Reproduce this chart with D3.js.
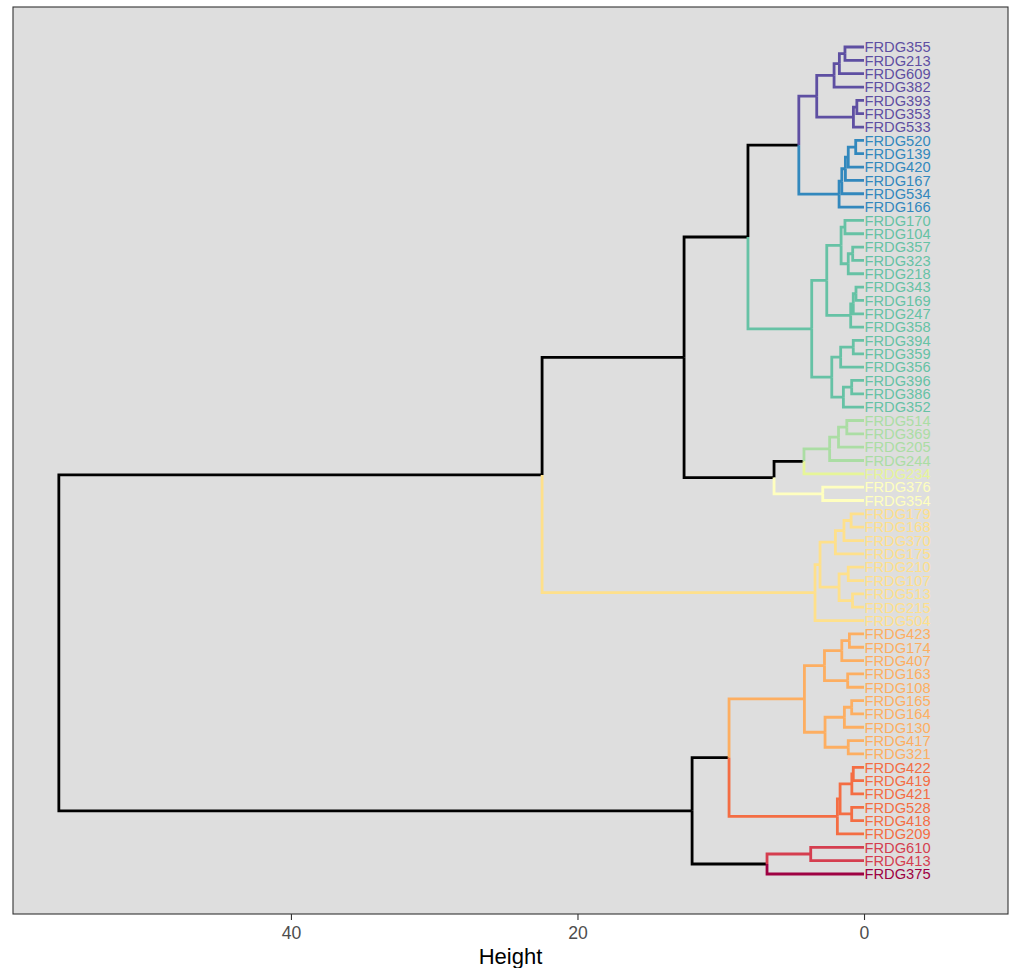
<!DOCTYPE html>
<html>
<head>
<meta charset="utf-8">
<script src="https://cdn.jsdelivr.net/npm/d3@7"></script>
<style>
  body { margin: 0; background: #ffffff; }
  svg { display: block; font-family: "Liberation Sans", Arial, sans-serif; }
</style>
</head>
<body>
<svg id="chart" width="1012" height="968"></svg>
<script>
// ---- Data ----
const leafLabels = [
  "FRDG355","FRDG213","FRDG609","FRDG382","FRDG393","FRDG353","FRDG533",
  "FRDG520","FRDG139","FRDG420","FRDG167","FRDG534","FRDG166",
  "FRDG170","FRDG104","FRDG357","FRDG323","FRDG218","FRDG343","FRDG169","FRDG247","FRDG358",
  "FRDG394","FRDG359","FRDG356","FRDG396","FRDG386","FRDG352",
  "FRDG514","FRDG369","FRDG205","FRDG244",
  "FRDG234",
  "FRDG376","FRDG354",
  "FRDG179","FRDG168","FRDG370","FRDG175","FRDG210","FRDG107","FRDG513","FRDG215","FRDG504",
  "FRDG423","FRDG174","FRDG407","FRDG163","FRDG108","FRDG165","FRDG164","FRDG130","FRDG417","FRDG321",
  "FRDG422","FRDG419","FRDG421","FRDG528","FRDG418","FRDG209",
  "FRDG610","FRDG413",
  "FRDG375"
];
const clusterColors = ["#5e4fa2","#3288bd","#66c2a5","#abdda4","#e6f598","#ffffbf",
                       "#fee08b","#fdae61","#f46d43","#d53e4f","#9e0142"];
const clusterSizes = [7, 6, 15, 4, 1, 2, 9, 10, 6, 2, 1];

// subtrees: [height, left, right]; leaves are labels
const purple = [3.3, [2.09, [1.72, [1.33, "FRDG355", "FRDG213"], "FRDG609"], "FRDG382"],
                     [0.74, [0.5, "FRDG393", "FRDG353"], "FRDG533"]];
const blue = [1.74, [1.55, [1.3, [1.1, [0.58, "FRDG520", "FRDG139"], "FRDG420"], "FRDG167"], "FRDG534"], "FRDG166"];
const green = [3.65,
  [2.6, [1.6, [1.33, "FRDG170", "FRDG104"], [1.1, [0.79, "FRDG357", "FRDG323"], "FRDG218"]],
        [0.93, [0.75, [0.56, "FRDG343", "FRDG169"], "FRDG247"], "FRDG358"]],
  [2.25, [1.63, [0.75, "FRDG394", "FRDG359"], "FRDG356"],
         [1.44, [0.86, "FRDG396", "FRDG386"], "FRDG352"]]];
const lightGreen = [2.4, [1.78, [1.2, "FRDG514", "FRDG369"], "FRDG205"], "FRDG244"];
const single234 = "FRDG234";
const paleYellow = [2.88, "FRDG376", "FRDG354"];
const yellow = [3.42,
  [3.07, [2.0, [1.4, [0.9, "FRDG179", "FRDG168"], "FRDG370"], "FRDG175"],
         [1.74, [1.1, "FRDG210", "FRDG107"], [0.8, "FRDG513", "FRDG215"]]],
  "FRDG504"];
const orange = [4.16,
  [2.76, [1.55, [1.02, "FRDG423", "FRDG174"], "FRDG407"], [1.14, "FRDG163", "FRDG108"]],
  [2.72, [1.37, [0.86, "FRDG165", "FRDG164"], "FRDG130"], [1.1, "FRDG417", "FRDG321"]]];
const orangeRed = [1.86, [1.67, [0.85, [0.75, "FRDG422", "FRDG419"], "FRDG421"], [0.86, "FRDG528", "FRDG418"]], "FRDG209"];
const red = [3.72, "FRDG610", "FRDG413"];
const darkRed = "FRDG375";

const upperTree = [22.47,
  [12.56, [8.1, [4.55, purple, blue], green], [6.28, [4.19, lightGreen, single234], paleYellow]],
  yellow];
const lowerTree = [12.0, [9.42, orange, orangeRed], [6.77, red, darkRed]];
const rootTree = [56.2, upperTree, lowerTree];

const xTicks = [40, 20, 0];

// ---- Layout ----
const panel = {left: 13, right: 1008, top: 7, bottom: 914};
const svg = d3.select("#chart");

const x = d3.scaleLinear().domain([59.4, -10.05]).range([panel.left, panel.right]);
const y = d3.scaleLinear().domain([-2, leafLabels.length + 3]).range([panel.top, panel.bottom]);

const leafCluster = [];
clusterSizes.forEach((s, ci) => { for (let k = 0; k < s; k++) leafCluster.push(ci); });

function build(n) {
  if (typeof n === "string") {
    const i = leafLabels.indexOf(n);
    return {leaf: true, name: n, h: 0, y: y(i + 1), cl: leafCluster[i]};
  }
  const a = build(n[1]), b = build(n[2]);
  return {leaf: false, h: n[0], children: [a, b], y: (a.y + b.y) / 2, cl: a.cl === b.cl ? a.cl : -1};
}
const root = build(rootTree);

const segs = [];
(function walk(node) {
  if (node.leaf) return;
  node.children.forEach(c => {
    segs.push({node, child: c});
    walk(c);
  });
})(root);

// panel
svg.append("rect")
  .attr("x", panel.left).attr("y", panel.top)
  .attr("width", panel.right - panel.left).attr("height", panel.bottom - panel.top)
  .attr("fill", "#dedede");

const colorOf = cl => cl < 0 ? "#000000" : clusterColors[cl];

// draw black first, then colored
segs.sort((a, b) => (a.child.cl < 0 ? 0 : 1) - (b.child.cl < 0 ? 0 : 1));
svg.append("g").selectAll("path").data(segs).join("path")
  .attr("d", d => `M${x(d.node.h)},${d.node.y}V${d.child.y}H${x(d.child.h)}`)
  .attr("fill", "none")
  .attr("stroke", d => colorOf(d.child.cl))
  .attr("stroke-width", 2.8)
  .attr("stroke-linecap", "butt")
  .attr("stroke-linejoin", "miter");

// leaf labels
svg.append("g").selectAll("text").data(leafLabels).join("text")
  .attr("x", x(0) + 0.5)
  .attr("y", (d, i) => y(i + 1))
  .attr("dy", "0.36em")
  .attr("font-size", "14.7px")
  .attr("fill", (d, i) => clusterColors[leafCluster[i]])
  .text(d => d);

// panel border
svg.append("rect")
  .attr("x", panel.left).attr("y", panel.top)
  .attr("width", panel.right - panel.left).attr("height", panel.bottom - panel.top)
  .attr("fill", "none").attr("stroke", "#333333").attr("stroke-width", 1.1);

// axis
const axis = svg.append("g")
  .attr("transform", `translate(0,${panel.bottom})`)
  .call(d3.axisBottom(x).tickValues(xTicks).tickSize(6).tickPadding(6.5).tickFormat(d3.format("d")));
axis.select(".domain").remove();
axis.selectAll(".tick line").attr("stroke", "#333333").attr("stroke-width", 1.1);
axis.selectAll(".tick text").attr("fill", "#4d4d4d").attr("font-size", "17.6px")
  .attr("font-family", "Liberation Sans, Arial, sans-serif");

svg.append("text")
  .attr("x", (panel.left + panel.right) / 2)
  .attr("y", 964)
  .attr("text-anchor", "middle")
  .attr("font-size", "22px")
  .attr("fill", "#000000")
  .text("Height");
</script>
</body>
</html>
